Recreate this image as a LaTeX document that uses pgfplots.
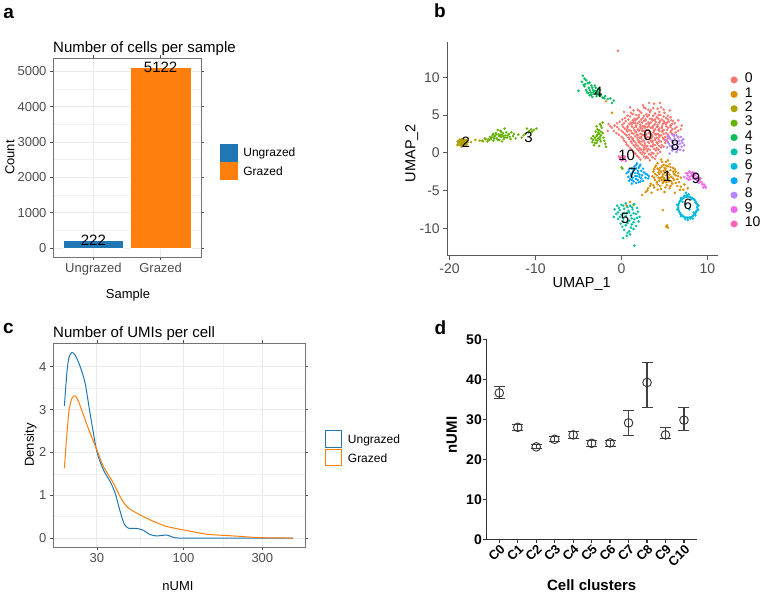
\documentclass[border=0pt]{standalone}
\usepackage{pgfplots}
\pgfplotsset{compat=1.18}
\usepackage{fontspec}
\setmainfont{Liberation Sans}

\definecolor{ugblue}{HTML}{1F77B4}
\definecolor{grorange}{HTML}{FF7F0E}
\definecolor{gridgray}{HTML}{EBEBEB}
\definecolor{tickgray}{HTML}{4D4D4D}
\definecolor{cl0}{HTML}{F8766D}
\definecolor{cl1}{HTML}{DB8E00}
\definecolor{cl2}{HTML}{AEA200}
\definecolor{cl3}{HTML}{64B200}
\definecolor{cl4}{HTML}{00BD5C}
\definecolor{cl5}{HTML}{00C1A7}
\definecolor{cl6}{HTML}{00BADE}
\definecolor{cl7}{HTML}{00A6FF}
\definecolor{cl8}{HTML}{B385FF}
\definecolor{cl9}{HTML}{EF67EB}
\definecolor{cl10}{HTML}{FF63B6}

\newcommand{\fs}[1]{\fontsize{#1}{#1}\selectfont}

\pgfplotsset{
  ggbw/.style={
    scale only axis, anchor=north west,
    /pgf/number format/assume math mode=true,
    /pgf/number format/1000 sep={},
    axis line style={black!55, line width=0.8pt},
    grid=both,
    major grid style={gridgray, line width=0.9pt},
    minor grid style={gridgray!70, line width=0.45pt},
    tick align=outside, major tick length=3pt, minor tick length=0pt,
    tick style={black!70, line width=0.7pt},
    tick label style={font=\fs{13}, text=tickgray},
    legend style={draw=none, fill=none, inner sep=0pt, outer sep=0pt,
      anchor=north west, font=\fs{12}, row sep=1pt, column sep=6pt,
      nodes={inner sep=0pt, anchor=west}},
    legend cell align=left,
  },
  umapframe/.style={scale only axis, anchor=north west, at={(447.3pt,-41.7pt)},
    width=271pt, height=214pt,
    xmin=-20.26, xmax=11.26, ymin=-13.63, ymax=14.7},
  umap/.style={only marks, mark=*, mark size=1.05pt, mark options={draw=none, fill=#1}, color=#1},
}

\begin{document}
\begin{tikzpicture}
\useasboundingbox (0pt,0pt) rectangle (767pt,-595pt);
\fill[white] (0pt,0pt) rectangle (767pt,-595pt);

% ---------------- panel a: cells per sample ----------------
\node[font=\bfseries\fs{19}, inner sep=0pt] at (8.7pt,-13.3pt) {a};
\node[anchor=base west, font=\fs{15}, inner sep=0pt] at (53pt,-52.3pt) {Number of cells per sample};
\begin{axis}[ggbw, at={(53pt,-58pt)}, width=148pt, height=199pt,
  xmin=0.4, xmax=2.6, ymin=-256, ymax=5378,
  xtick={1,2}, xticklabels={Ungrazed,Grazed}, minor xtick={},
  ytick={0,1000,2000,3000,4000,5000}, minor ytick={500,1500,2500,3500,4500},
  scaled y ticks=false,
  legend style={at={(1.128,0.570)}}]
\addplot[ybar, bar width=0.9, bar shift=0pt, fill=ugblue, draw=white, line width=0.4pt,
  nodes near coords, nodes near coords align=center,
  every node near coord/.append style={font=\fs{15}, text=black},
  legend image code/.code={\fill[ugblue] (0pt,-7.5pt) rectangle (17pt,9.5pt);}]
  coordinates {(1,222)};
\addlegendentry{Ungrazed}
\addplot[ybar, bar width=0.9, bar shift=0pt, fill=grorange, draw=white, line width=0.4pt,
  nodes near coords, nodes near coords align=center,
  every node near coord/.append style={font=\fs{15}, text=black},
  legend image code/.code={\fill[grorange] (0pt,-7.5pt) rectangle (17pt,9.5pt);}]
  coordinates {(2,5122)};
\addlegendentry{Grazed}
\end{axis}
\node[rotate=90, font=\fs{13}] at (10pt,-157.5pt) {Count};
\node[font=\fs{13}] at (128pt,-295pt) {Sample};

% ---------------- panel b: UMAP ----------------
\node[font=\bfseries\fs{19}, inner sep=0pt] at (440pt,-11pt) {b};
\begin{axis}[umapframe,
  axis lines=left, axis line style={-, black!65, line width=1pt},
  xtick={-20,-10,0,10}, ytick={-10,-5,0,5,10},
  tick align=outside, major tick length=4pt, tick style={black!65, line width=0.8pt},
  tick label style={font=\fs{14}, text=tickgray},
  /pgf/number format/assume math mode=true,
  legend style={draw=none, fill=none, inner sep=0pt, outer sep=0pt,
    at={(1.046,0.855)}, anchor=north west, font=\fs{14}, row sep=0pt, column sep=7.5pt,
    nodes={inner sep=0pt, anchor=west, text height=10pt, text depth=4.4pt}},
  legend cell align=left,
  legend image code/.code={\draw[#1, mark size=3.3pt] plot coordinates {(3pt,0pt)};}]
% cluster 0
\addplot[umap=cl0] coordinates {
(2.5,6.3) (3.8,6.5) (4.6,6.0) (-0.4,13.5)
(1.9,5.7) (2.8,5.9) (3.4,5.6) (4.2,5.8) (5.0,5.3)
(1.1,5.3) (1.7,5.0) (2.3,5.3) (2.9,5.1) (3.3,5.4) (3.9,5.2) (4.5,5.0) (5.4,4.9)
(0.4,4.6) (1.0,4.8) (1.5,4.5) (2.0,4.7) (2.5,4.6) (3.0,4.8) (3.5,4.5) (4.1,4.7) (4.7,4.4) (5.2,4.6) (5.8,4.3)
(-0.2,4.1) (0.5,4.2) (1.1,4.0) (1.6,4.3) (2.1,4.1) (2.6,4.2) (3.1,4.0) (3.6,4.3) (4.0,4.1) (4.5,4.2) (5.0,4.0) (5.5,4.1) (6.2,3.9)
(-0.8,3.6) (0.1,3.7) (0.7,3.5) (1.2,3.8) (1.7,3.6) (2.2,3.7) (2.7,3.5) (3.2,3.8) (3.7,3.6) (4.2,3.7) (4.7,3.5) (5.2,3.8) (5.7,3.6) (6.4,3.4)
(-1.1,3.3) (-0.3,3.1) (0.4,3.2) (0.9,3.0) (1.4,3.3) (1.9,3.1) (2.4,3.2) (2.9,3.0) (3.4,3.3) (3.9,3.1) (4.4,3.2) (4.9,3.0) (5.4,3.3) (5.9,3.1) (6.6,2.9)
(-0.6,2.6) (0.2,2.7) (0.7,2.8) (1.2,2.6) (1.7,2.7) (2.2,2.5) (2.7,2.8) (3.2,2.6) (3.7,2.7) (4.2,2.5) (4.7,2.8) (5.2,2.6) (5.7,2.7) (6.1,2.4)
(0.0,2.1) (0.6,2.3) (1.1,2.1) (1.6,2.2) (2.1,2.0) (2.6,2.3) (3.1,2.1) (3.6,2.2) (4.1,2.0) (4.6,2.3) (5.1,2.1) (5.5,2.2)
(0.3,1.6) (0.9,1.8) (1.4,1.6) (1.9,1.7) (2.4,1.5) (2.9,1.8) (3.4,1.6) (3.9,1.7) (4.4,1.5) (4.9,1.8) (5.3,1.6)
(0.6,1.1) (1.2,1.3) (1.7,1.1) (2.2,1.2) (2.7,1.0) (3.2,1.3) (3.7,1.1) (4.2,1.2) (4.7,1.0) (5.1,1.3)
(1.0,0.6) (1.6,0.8) (2.1,0.6) (2.6,0.7) (3.1,0.5) (3.6,0.8) (4.1,0.6) (4.6,0.7)
(1.4,0.1) (2.0,0.3) (2.5,0.1) (3.0,0.2) (3.5,0.0) (4.0,0.3) (4.5,0.1)
(1.8,-0.4) (2.4,-0.2) (2.9,-0.5) (3.4,-0.3) (4.0,-0.4)
(2.2,-0.9) (2.8,-0.7) (3.3,-1.0) (3.9,-0.8)
(2.4,2.9) (3.0,3.4) (3.5,2.4) (2.8,2.3) (3.3,1.9) (2.5,3.5) (3.8,3.0) (2.0,2.9) (4.0,2.4) (3.1,3.0)
(2.3,1.9) (3.6,1.4) (2.7,1.3) (1.8,2.4) (4.4,2.9) (1.5,3.0) (3.4,4.0) (2.8,4.4) (4.3,1.8) (2.0,1.4)
(3.0,0.9) (3.9,4.4) (1.3,1.9) (4.8,2.0) (2.6,0.4) (2.2,3.3) (3.6,3.3) (4.1,3.4) (1.6,3.9) (2.9,2.0)
(2.1,5.5) (3.1,5.7) (3.7,5.9) (4.4,5.4) (2.6,6.0) (1.4,5.6) (4.9,5.7)
(0.7,4.9) (1.3,5.1) (2.0,5.0) (2.6,4.9) (3.2,5.0) (3.7,4.9) (4.3,5.0) (4.9,4.8) (5.7,4.7)
(0.1,4.4) (0.8,4.4) (1.3,4.3) (1.8,4.5) (2.3,4.4) (2.8,4.3) (3.3,4.5) (3.8,4.3) (4.3,4.5) (4.9,4.2) (5.4,4.4) (6.0,4.2)
(-0.5,3.9) (0.3,3.9) (0.9,3.8) (1.4,4.0) (1.9,3.9) (2.4,4.0) (2.9,3.8) (3.3,3.9) (3.9,3.8) (4.4,4.0) (4.8,3.8) (5.3,4.0) (5.9,3.8)
(-1.3,3.5) (-0.5,3.4) (0.2,3.4) (0.7,3.3) (1.2,3.5) (1.7,3.4) (2.2,3.5) (2.7,3.3) (3.2,3.5) (3.6,3.4) (4.2,3.5) (4.7,3.3) (5.2,3.5) (5.7,3.4) (6.2,3.2) (6.9,3.1)
(-0.9,2.9) (0.0,2.9) (0.6,3.0) (1.1,2.9) (1.6,2.8) (2.1,3.0) (2.6,2.9) (3.3,2.8) (3.8,2.9) (4.3,3.0) (4.8,2.9) (5.3,3.0) (5.8,2.9) (6.3,2.7)
(-0.3,2.4) (0.4,2.5) (0.9,2.4) (1.4,2.5) (1.9,2.3) (2.4,2.4) (2.9,2.5) (3.4,2.4) (3.9,2.5) (4.4,2.3) (4.9,2.5) (5.4,2.4) (5.9,2.5)
(0.2,1.9) (0.8,2.0) (1.3,1.8) (1.8,2.0) (2.3,2.1) (2.8,1.9) (3.5,2.0) (3.9,1.9) (4.4,2.1) (4.9,1.9) (5.4,1.9)
(0.5,1.4) (1.1,1.5) (1.6,1.4) (2.1,1.5) (2.6,1.6) (3.1,1.4) (3.6,1.6) (4.1,1.4) (4.6,1.5) (5.1,1.6)
(0.8,0.9) (1.4,1.0) (1.9,0.9) (2.4,1.0) (2.9,0.8) (3.4,0.9) (3.9,1.0) (4.4,0.9) (4.9,0.8)
(1.2,0.4) (1.8,0.5) (2.3,0.4) (2.8,0.5) (3.3,0.4) (3.8,0.5) (4.3,0.4)
(1.6,-0.1) (2.2,0.0) (2.7,-0.1) (3.2,-0.2) (3.7,-0.1) (4.2,-0.1)
(2.0,-0.6) (2.6,-0.5) (3.1,-0.7) (3.6,-0.6)
(1.0,6.0) (0.3,5.4) (5.6,5.6) (6.6,4.3) (7.0,3.6) (-1.5,3.8) (-1.6,2.9) (4.5,6.6) (3.2,6.6) (6.6,2.1)
};
\addlegendentry{0}
% cluster 1
\addplot[umap=cl1] coordinates {
(4.6,-0.9) (5.2,-1.2) (4.2,-1.4) (4.9,-1.6) (5.6,-1.5) (3.9,-1.9) (4.5,-2.0) (5.1,-2.1) (5.7,-1.9) (6.2,-2.2)
(3.7,-2.5) (4.3,-2.6) (4.9,-2.4) (5.4,-2.6) (6.0,-2.5) (6.6,-2.7) (3.6,-3.1) (4.1,-3.0) (4.7,-3.2) (5.2,-3.0)
(5.8,-3.2) (6.3,-3.0) (6.9,-3.3) (3.9,-3.6) (4.4,-3.7) (5.0,-3.5) (5.5,-3.8) (6.1,-3.6) (6.7,-3.9) (3.4,-4.1)
(4.2,-4.2) (4.8,-4.0) (5.3,-4.3) (5.9,-4.1) (6.5,-4.4) (7.3,-4.2) (3.1,-4.7) (3.8,-4.6) (4.6,-4.8) (5.6,-4.7)
(6.8,-4.9) (7.7,-4.7) (2.8,-5.2) (3.5,-5.3) (6.2,-5.3) (2.4,-5.6) (5.0,-5.2) (4.8,-2.9) (5.3,-2.7) (4.5,-3.4)
(5.0,-2.0) (5.5,-3.3) (4.9,-3.8) (5.2,-1.7) (4.4,-2.3) (4.8,-7.6) (5.3,-9.6) (5.4,-9.9) (5.2,-9.8) (1.0,-6.5)
(0.6,-7.0) (-1.1,5.3) (-1.8,6.8)
(4.7,-1.2) (5.4,-1.0) (4.0,-1.7) (4.7,-1.8) (5.4,-1.8) (6.0,-2.0) (3.8,-2.2) (4.2,-2.1) (4.6,-2.5) (5.1,-2.3)
(5.7,-2.3) (6.3,-2.5) (3.9,-2.8) (4.4,-2.8) (5.0,-2.7) (5.6,-2.9) (6.1,-2.8) (6.6,-3.1) (3.8,-3.3) (4.3,-3.3)
(4.9,-3.3) (5.4,-3.5) (6.0,-3.4) (6.5,-3.5) (4.1,-3.9) (4.7,-3.6) (5.2,-3.9) (5.8,-3.8) (6.3,-4.0) (3.7,-4.3)
(4.5,-4.4) (5.1,-4.6) (5.7,-4.4) (6.9,-4.5) (3.3,-4.4) (4.2,-4.9) (7.2,-4.9) (3.0,-5.0)
};
\addlegendentry{1}
% cluster 2
\addplot[umap=cl2] coordinates {
(-19.0,1.3) (-18.8,1.0) (-18.7,1.6) (-18.5,1.2) (-18.4,1.5) (-18.3,0.9) (-18.2,1.3) (-18.6,1.8) (-18.9,1.6) (-19.1,1.0)
(-18.0,1.1) (-18.1,1.7) (-18.6,0.8) (-18.4,1.1) (-18.8,1.3) (-18.3,1.6) (-17.9,1.4) (-18.5,1.4) (-18.7,1.2) (-18.2,1.0)
(-18.6,1.1) (-18.3,1.3) (-18.9,1.4) (-18.45,1.65) (-18.1,1.45) (-18.75,1.5)
(-18.55,1.0) (-18.35,1.75) (-18.95,1.15) (-18.15,1.2) (-18.65,1.35) (-18.4,1.35) (-18.8,1.75) (-18.05,1.6) (-18.5,0.95) (-19.05,1.5)
(-17.5,1.4) (-17.0,1.7) (-16.5,1.6) (-15.9,1.9) (-15.5,1.8) (-16.1,1.5)
};
\addlegendentry{2}
% cluster 3
\addplot[umap=cl3] coordinates {
(-16.2,1.6) (-15.8,1.8) (-15.4,1.7) (-15.1,2.0) (-14.9,1.6) (-14.7,2.2) (-14.5,1.9) (-14.3,2.4) (-14.2,1.7) (-14.0,2.1)
(-13.8,2.6) (-13.7,1.8) (-13.5,2.3) (-13.3,2.0) (-13.1,2.5) (-12.9,1.8) (-14.6,2.6) (-14.4,3.0) (-14.0,2.8) (-13.6,3.2)
(-15.0,2.3) (-14.8,1.9) (-13.9,1.5) (-12.6,2.2) (-12.3,1.9) (-12.0,2.4) (-11.6,2.0) (-11.2,2.5) (-10.8,2.7) (-10.5,3.1)
(-10.2,3.0) (-9.9,3.2) (-10.7,2.9) (-11.0,3.2) (-12.8,2.7) (-15.3,2.1) (-14.1,2.4) (-13.4,2.7)
(-15.6,1.5) (-15.2,1.8) (-14.8,2.1) (-14.4,1.7) (-14.2,2.2) (-13.9,2.4) (-13.6,2.0) (-13.2,2.3) (-14.6,2.4) (-14.1,2.9)
(-13.8,2.2) (-14.9,2.5) (-13.0,2.1) (-12.5,2.5) (-11.4,2.3) (-10.4,2.8)
(-3.2,1.0) (-2.9,1.3) (-2.6,0.9) (-3.0,1.7) (-2.7,1.9) (-2.4,1.5) (-3.3,2.2) (-2.8,2.4) (-2.5,2.1) (-2.2,2.6)
(-3.0,2.8) (-2.6,3.0) (-2.3,3.3) (-2.9,3.5) (-2.5,3.8) (-2.2,4.0) (-1.9,1.2) (-2.1,2.0) (-3.4,1.4) (-2.7,2.7)
(-1.8,0.8) (-3.5,1.9) (-2.4,2.3) (-3.1,1.3) (-2.8,1.6) (-2.5,1.8) (-3.1,2.0) (-2.9,2.2) (-2.6,2.5) (-2.4,2.8)
(-2.8,3.1) (-2.4,3.6) (-2.0,1.6) (-3.3,1.7) (0.0,-1.9) (0.1,-2.1) (1.4,-6.9)
};
\addlegendentry{3}
% cluster 4
\addplot[umap=cl4] coordinates {
(-4.5,10.2) (-4.3,9.8) (-4.1,9.6) (-4.6,9.4) (-3.9,9.2) (-4.3,8.8) (-3.8,8.6) (-3.5,8.9) (-3.3,8.3) (-3.0,8.6)
(-2.8,8.1) (-3.6,8.0) (-3.2,7.8) (-2.6,7.9) (-3.9,7.9) (-2.9,7.5) (-2.4,7.6) (-2.2,7.3) (-3.4,7.4) (-1.9,7.5)
(-1.6,7.1) (-1.3,7.2) (-0.9,6.9) (-1.1,6.6) (-5.0,8.2) (-4.1,8.3) (-3.1,8.9) (-2.7,8.4) (-3.7,7.6) (-2.5,8.3)
(-4.2,9.1) (-3.7,9.3) (-3.4,8.6) (-3.7,8.3) (-3.1,8.2) (-3.5,7.7) (-2.9,7.9) (-3.3,8.0) (-2.6,7.6) (-2.0,7.2)
(-4.0,8.0) (-4.4,9.0)
};
\addlegendentry{4}
% cluster 5
\addplot[umap=cl5] coordinates {
(-0.5,-7.0) (0.0,-6.9) (0.5,-6.7) (1.0,-7.0) (1.5,-6.8) (-0.8,-7.5) (-0.2,-7.6) (0.3,-7.4) (0.8,-7.7) (1.3,-7.5)
(1.8,-7.3) (-0.6,-8.1) (0.0,-8.2) (0.6,-8.0) (1.1,-8.3) (1.7,-8.1) (2.1,-8.5) (-0.4,-8.8) (0.2,-8.7) (0.9,-9.0)
(1.5,-8.8) (2.0,-9.1) (-0.1,-9.4) (0.5,-9.6) (1.2,-9.5) (1.7,-9.7) (0.3,-10.2) (0.9,-10.4) (1.4,-10.1) (0.6,-11.0)
(1.0,-10.8) (1.5,-12.3) (0.2,-11.3) (-0.9,-8.5)
(-0.3,-7.3) (0.2,-7.0) (0.7,-7.2) (1.2,-7.2) (-0.4,-7.9) (0.3,-8.0) (0.9,-7.9) (1.4,-8.0) (1.9,-7.8) (-0.2,-8.5)
(0.5,-8.4) (1.2,-8.7) (1.8,-8.6) (0.2,-9.1) (0.7,-9.3) (1.4,-9.2) (0.1,-9.8) (1.1,-9.9) (0.7,-10.6)
};
\addlegendentry{5}
% cluster 6
\addplot[umap=cl6] coordinates {
(8.8,-7.2) (8.73,-6.72) (8.54,-6.3) (8.25,-5.99) (7.89,-5.82) (7.51,-5.82) (7.15,-5.99) (6.86,-6.3) (6.67,-6.72) (6.6,-7.2)
(6.67,-7.68) (6.86,-8.1) (7.15,-8.41) (7.51,-8.58) (7.89,-8.58) (8.25,-8.41) (8.54,-8.1) (8.73,-7.68)
(8.95,-7.0) (8.6,-6.6) (8.1,-6.1) (7.3,-5.7) (6.9,-6.0) (6.45,-6.9) (6.5,-7.5) (6.9,-8.4) (7.4,-8.8) (8.0,-8.7)
(8.6,-8.3) (8.9,-7.6) (7.6,-5.6) (7.7,-8.9) (8.3,-8.7) (7.1,-6.5) (8.4,-7.9) (7.5,-6.8) (7.9,-7.5) (7.5,-5.3) (7.8,-5.5)
(8.85,-6.9) (8.65,-6.5) (8.4,-6.15) (8.05,-5.9) (7.7,-5.8) (7.3,-5.9) (7.0,-6.15) (6.75,-6.5) (6.6,-6.95) (6.6,-7.45)
(6.75,-7.9) (7.0,-8.25) (7.3,-8.5) (7.7,-8.6) (8.05,-8.55) (8.4,-8.25) (8.65,-7.9) (8.85,-7.45)
};
\addlegendentry{6}
% cluster 7
\addplot[umap=cl7] coordinates {
(1.8,-1.4) (2.2,-1.6) (1.5,-1.8) (2.0,-2.0) (2.5,-2.1) (0.9,-2.2) (1.4,-2.3) (1.9,-2.4) (0.6,-2.7) (1.1,-2.8)
(1.6,-2.7) (2.1,-2.9) (2.6,-2.6) (3.0,-2.9) (0.8,-3.2) (1.3,-3.3) (1.8,-3.1) (2.3,-3.4) (2.8,-3.3) (3.2,-3.1)
(0.9,-3.7) (1.4,-3.8) (1.9,-3.6) (2.5,-3.7) (1.2,-4.1) (1.7,-4.0) (1.0,-3.5) (2.2,-3.8)
(1.7,-1.6) (2.1,-1.8) (1.2,-2.1) (1.7,-2.1) (2.3,-2.4) (0.8,-2.5) (1.3,-2.6) (1.9,-2.7) (2.4,-3.0) (2.8,-2.8)
(1.1,-3.0) (1.6,-3.1) (2.1,-3.2) (1.2,-3.6) (1.7,-3.5) (2.0,-3.9) (3.1,-3.4)
};
\addlegendentry{7}
% cluster 8
\addplot[umap=cl8] coordinates {
(5.4,2.2) (5.9,2.4) (6.4,2.3) (6.9,2.1) (7.2,1.8) (5.2,1.7) (5.7,1.8) (6.2,1.9) (6.7,1.6) (7.1,1.3)
(5.5,1.2) (6.0,1.4) (6.5,1.1) (7.0,0.8) (5.3,0.7) (5.8,0.9) (6.3,0.6) (6.8,0.4) (5.9,0.3) (6.4,0.1)
(7.2,0.3) (5.6,-0.1) (5.6,2.0) (6.1,2.2) (6.6,2.0) (7.0,1.6) (5.4,1.4) (5.9,1.6) (6.4,1.5) (6.8,1.2)
(5.6,0.9) (6.1,1.0) (6.6,0.8) (6.0,0.6) (6.5,0.4) (7.3,1.0)
};
\addlegendentry{8}
% cluster 9
\addplot[umap=cl9] coordinates {
(7.5,-2.7) (7.9,-2.5) (8.3,-2.6) (8.7,-2.8) (7.7,-3.0) (8.1,-3.1) (8.5,-3.0) (8.9,-3.2) (9.2,-3.4) (7.6,-3.4)
(8.0,-3.5) (8.4,-3.4) (8.8,-3.7) (9.3,-3.9) (9.6,-4.2) (9.8,-4.6) (9.5,-4.6) (9.0,-4.0) (7.3,-3.2) (8.2,-2.9)
(9.1,-3.7) (7.7,-2.7) (8.1,-2.7) (8.5,-2.7) (7.9,-3.2) (8.3,-3.2) (8.7,-3.3) (8.6,-3.5) (9.0,-3.5) (9.4,-4.2)
(9.7,-4.4) (7.8,-3.6)
};
\addlegendentry{9}
% cluster 10
\addplot[umap=cl10] coordinates {
(-0.1,-0.6) (0.2,-0.9) (0.4,-0.5) (0.0,-1.0) (0.3,-0.7) (-0.2,-0.8) (0.5,-1.1) (0.1,-0.4) (-0.3,-0.5)
};
\addlegendentry{10}
\end{axis}
% cluster labels, set over the points
\begin{axis}[umapframe, hide axis]
\begin{scope}[every node/.style={font=\fs{15}, inner sep=0pt, text=black}]
\node at (axis cs:3.05,2.36) {0};
\node at (axis cs:5.33,-3.17) {1};
\node at (axis cs:-18.1,1.34) {2};
\node at (axis cs:-10.8,2.05) {3};
\node at (axis cs:-2.7,7.96) {4};
\node at (axis cs:0.41,-8.68) {5};
\node at (axis cs:7.7,-6.8) {6};
\node at (axis cs:1.26,-2.7) {7};
\node at (axis cs:6.22,1.03) {8};
\node at (axis cs:8.66,-3.4) {9};
\node at (axis cs:0.6,-0.38) {10};
\end{scope}
\end{axis}
\node[font=\fs{14.5}] at (581.7pt,-284pt) {UMAP\_1};
\node[rotate=90, font=\fs{14.5}] at (411.7pt,-153pt) {UMAP\_2};

% ---------------- panel c: UMI density ----------------
\node[font=\bfseries\fs{19}, inner sep=0pt] at (8.3pt,-328.7pt) {c};
\node[anchor=base west, font=\fs{15}, inner sep=0pt] at (53pt,-337.7pt) {Number of UMIs per cell};
\begin{axis}[ggbw, at={(53pt,-343.3pt)}, width=252pt, height=204pt,
  xmode=log, xmin=16.3, xmax=543, ymin=-0.216, ymax=4.546,
  xtick={30,100,300}, xticklabels={30,100,300}, minor xtick={54.77,173.2},
  ytick={0,1,2,3,4}, minor ytick={0.5,1.5,2.5,3.5},
  legend style={at={(1.079,0.574)}}]
\addplot[ugblue, line width=1pt, smooth, tension=0.45,
  legend image code/.code={\draw[ugblue, line width=1pt] (0.5pt,-7pt) rectangle (16.5pt,9.5pt);}]
  coordinates {
  (19.1,3.08) (19.8,3.88) (20.4,4.23) (21.2,4.33) (22.2,4.27) (23.8,4.0) (25.5,3.61) (27.3,2.91)
  (30,2.02) (32.9,1.59) (36.1,1.32) (38.7,1.05) (41.5,0.62) (43.9,0.33) (46.6,0.23) (52.3,0.225)
  (57.4,0.18) (63.0,0.08) (69.1,0.05) (79.4,0.07) (87.1,0.015) (95.6,0.0) (150,0) (250,0) (461,0)};
\addlegendentry{Ungrazed}
\addplot[grorange, line width=1pt, smooth, tension=0.45,
  legend image code/.code={\draw[grorange, line width=1pt] (0.5pt,-7pt) rectangle (16.5pt,9.5pt);}]
  coordinates {
  (19.1,1.63) (19.8,2.45) (20.4,2.99) (21.2,3.26) (22.2,3.32) (23.3,3.18) (24.9,2.87) (27.3,2.45)
  (30,2.06) (32.9,1.67) (37.8,1.28) (42.5,0.89) (46.6,0.70) (54.8,0.54) (66.0,0.39) (79.4,0.27)
  (100,0.19) (138.5,0.09) (200,0.05) (290,0.01) (461,0.0)};
\addlegendentry{Grazed}
\end{axis}
\node[rotate=90, font=\fs{13}] at (30.5pt,-445pt) {Density};
\node[font=\fs{13}] at (178pt,-586pt) {nUMI};

% ---------------- panel d: nUMI per cluster ----------------
\node[font=\bfseries\fs{19}, inner sep=0pt] at (440.5pt,-327.5pt) {d};
\begin{axis}[scale only axis, anchor=north west, at={(486.5pt,-339.3pt)},
  width=210.2pt, height=200pt,
  xmin=-0.693, xmax=10.69, ymin=0, ymax=50,
  axis lines=left, axis line style={-, black!80, line width=1.6pt},
  xtick={0,...,10}, xticklabels={C0,C1,C2,C3,C4,C5,C6,C7,C8,C9,C10},
  ytick={0,10,20,30,40,50},
  tick align=outside, major tick length=3.5pt, tick style={black!80, line width=1.3pt},
  /pgf/number format/assume math mode=true,
  yticklabel style={font=\bfseries\fs{14}, inner sep=1pt},
  xticklabel style={font=\bfseries\fs{13}, rotate=45, anchor=north east, inner sep=0.5pt},
  clip=false]
\addplot[only marks, mark=o, mark size=4.3pt, black!80, mark options={line width=0.9pt},
  error bars/.cd, y dir=both, y explicit,
  error bar style={line width=1.1pt, black!75},
  error mark options={rotate=90, mark size=5.5pt, line width=1.1pt, black!75}]
  coordinates {
  (0,36.6) += (0,1.5) -= (0,1.5)
  (1,28.0) += (0,0.8) -= (0,0.9)
  (2,23.1) += (0,0.7) -= (0,0.4)
  (3,25.0) += (0,0.7) -= (0,0.5)
  (4,26.1) += (0,0.8) -= (0,0.9)
  (5,24.0) += (0,0.7) -= (0,0.8)
  (6,24.1) += (0,0.7) -= (0,0.8)
  (7,29.1) += (0,3.1) -= (0,3.1)
  (8,39.2) += (0,5.0) -= (0,6.2)
  (9,26.1) += (0,1.9) -= (0,0.9)
  (10,29.8) += (0,3.2) -= (0,2.6)};
\end{axis}
\node[rotate=90, font=\bfseries\fs{15}] at (451.7pt,-435pt) {nUMI};
\node[font=\bfseries\fs{15}] at (591.7pt,-585pt) {Cell clusters};
\end{tikzpicture}
\end{document}
